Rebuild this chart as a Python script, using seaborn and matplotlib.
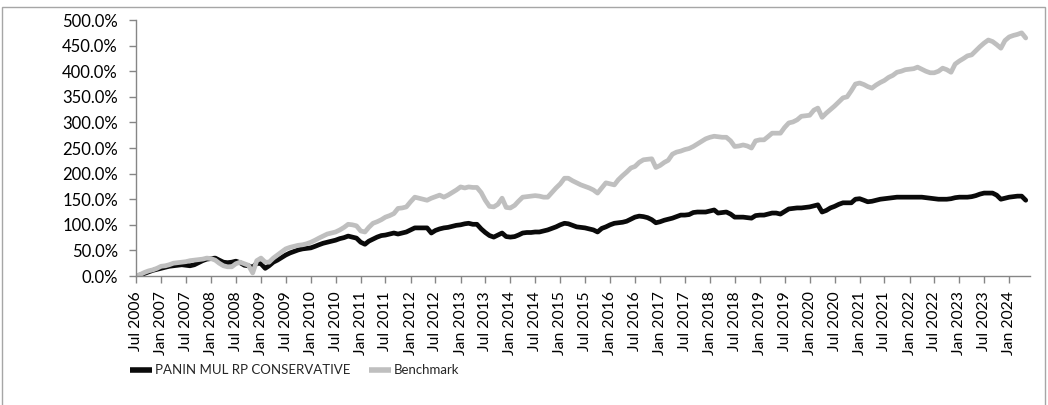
import pandas as pd
import matplotlib.pyplot as plt
import matplotlib.ticker as mticker
from matplotlib.patches import Rectangle
import seaborn as sns

# cumulative return (%), monthly, Jul 2006 .. May 2024
start_month = "2006-07-01"

fund = [
    0, 2, 5, 8, 11, 13,                                   # 2006 (Jul-Dec)
    15, 17, 19, 20, 21, 22, 21, 20, 22, 26, 30, 33,       # 2007
    34, 35, 31, 27, 26, 27, 29, 26, 21, 20, 17, 25,       # 2008
    24, 15, 20, 27, 31, 36, 41, 45, 48, 51, 53, 54,       # 2009
    55, 58, 61, 64, 66, 68, 70, 73, 75, 78, 76, 74,       # 2010
    66, 62, 68, 72, 76, 79, 80, 82, 84, 82, 84, 86,       # 2011
    90, 94, 94, 94, 94, 84, 89, 92, 94, 95, 97, 99,       # 2012
    100, 102, 103, 101, 101, 92, 85, 79, 76, 80, 84, 77,  # 2013
    76, 77, 80, 84, 85, 85, 86, 86, 88, 90, 93, 96,       # 2014
    100, 103, 102, 99, 96, 95, 94, 92, 90, 86, 93, 96,    # 2015
    100, 103, 104, 105, 107, 111, 115, 117, 116, 114, 110, 104,  # 2016
    106, 109, 111, 113, 116, 119, 119, 120, 124, 125, 125, 125,  # 2017
    127, 129, 123, 124, 125, 121, 115, 115, 115, 114, 113, 118,  # 2018
    119, 119, 121, 123, 123, 121, 126, 131, 132, 133, 133, 134,  # 2019
    135, 137, 139, 125, 128, 133, 136, 140, 143, 143, 143, 150,  # 2020
    151, 148, 145, 146, 148, 150, 151, 152, 153, 154, 154, 154,  # 2021
    154, 154, 154, 154, 153, 152, 151, 150, 150, 150, 151, 153,  # 2022
    154, 154, 154, 155, 157, 160, 162, 162, 162, 158, 150, 152,  # 2023
    154, 155, 156, 156, 148,                              # 2024 (Jan-May)
]

benchmark = [
    0, 3, 7, 10, 12, 15,
    19, 20, 22, 25, 26, 27, 28, 30, 31, 32, 33, 35,
    34, 31, 25, 20, 18, 18, 24, 27, 24, 21, 6, 30,
    35, 27, 27, 35, 41, 47, 53, 56, 58, 60, 61, 63,
    66, 70, 74, 78, 82, 84, 86, 90, 95, 101, 100, 98,
    88, 86, 95, 103, 106, 110, 115, 118, 122, 132, 133, 135,
    145, 154, 152, 150, 148, 152, 155, 158, 154, 158, 163, 168,
    174, 172, 174, 173, 173, 163, 148, 136, 135, 140, 152, 134,
    133, 138, 146, 154, 155, 156, 157, 156, 154, 154, 163, 172,
    180, 191, 191, 186, 182, 178, 175, 172, 168, 162, 172, 182,
    180, 178, 188, 196, 203, 211, 214, 222, 227, 228, 229, 212,
    216, 222, 226, 238, 242, 244, 247, 249, 253, 258, 263, 268,
    271, 273, 272, 271, 271, 264, 253, 254, 256, 254, 250, 264,
    266, 266, 272, 279, 279, 279, 290, 299, 301, 305, 312, 313,
    314, 324, 328, 310, 318, 325, 332, 340, 348, 350, 362, 375,
    377, 374, 370, 367, 373, 378, 382, 388, 392, 398, 400, 403,
    404, 405, 408, 404, 400, 397, 397, 400, 406, 403, 398, 414,
    420, 425, 430, 432, 440, 448, 455, 461, 458, 452, 445, 460,
    467, 470, 472, 475, 465,
]

fund_name = "PANIN MUL RP CONSERVATIVE"
bench_name = "Benchmark"

dates = pd.date_range(start_month, periods=len(fund), freq="MS")
df = pd.DataFrame({"date": dates, fund_name: fund, bench_name: benchmark})
long_df = df.melt(id_vars="date", var_name="series", value_name="value")

sns.set_theme(style="ticks")
plt.rcParams["font.family"] = ["Lato", "DejaVu Sans"]

fig = plt.figure(figsize=(10.48, 4.05), dpi=100)
ax = fig.add_axes([0.1298, 0.3185, 0.853, 0.632])

# black fund first, grey benchmark on top
sns.lineplot(data=long_df, x="date", y="value", hue="series",
             hue_order=[fund_name, bench_name],
             palette={fund_name: "#0a0a0a", bench_name: "#bfbfbf"},
             linewidth=3.4, ax=ax, legend=False)
for line in ax.lines:
    line.set_solid_joinstyle("round")

ax.set_xlim(pd.Timestamp("2006-07-01"), pd.Timestamp("2024-06-01"))
ax.set_ylim(0, 500)
ax.yaxis.set_major_locator(mticker.MultipleLocator(50))
ax.yaxis.set_major_formatter(mticker.FuncFormatter(lambda v, _: f"{v:.1f}%"))

tick_dates = pd.date_range("2006-07-01", "2024-01-01", freq="6MS")
ax.set_xticks(tick_dates)
ax.set_xticklabels([d.strftime("%b %Y") for d in tick_dates], rotation=90,
                   fontsize=11.3)
ax.tick_params(axis="y", labelsize=12, length=5, width=1, color="#868686",
               pad=8, labelcolor="black")
ax.tick_params(axis="x", length=5, width=1, color="#868686", pad=6,
               labelcolor="black")
ax.set_xlabel("")
ax.set_ylabel("")

sns.despine(ax=ax)
for side in ("left", "bottom"):
    ax.spines[side].set_color("#868686")
    ax.spines[side].set_linewidth(1)

# legend under the axis labels
handles = [plt.Line2D([], [], color="#0a0a0a", lw=4, solid_capstyle="butt"),
           plt.Line2D([], [], color="#bfbfbf", lw=4, solid_capstyle="butt")]
fig.legend(handles, [fund_name, bench_name], loc="center left",
           bbox_to_anchor=(130 / 1048, 0.086), ncol=2, frameon=False,
           borderpad=0, borderaxespad=0,
           prop={"size": 9.5},
           handlelength=1.7, handletextpad=0.2, columnspacing=1.4)

# chart border
fig.patches.append(Rectangle((2 / 1048, -0.01), 1043 / 1048, (405 - 7) / 405 + 0.01,
                             transform=fig.transFigure, fill=False,
                             edgecolor="#a6a6a6", lw=1))

fig.savefig("out.png", dpi=100)
